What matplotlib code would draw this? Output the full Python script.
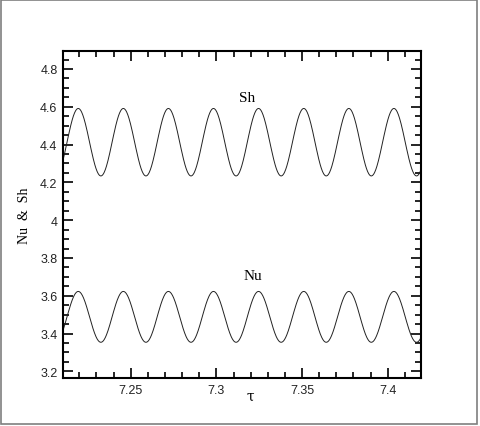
import numpy as np
import matplotlib
matplotlib.use("Agg")
import matplotlib.pyplot as plt
from matplotlib.patches import Rectangle
from matplotlib.ticker import MultipleLocator

# Extrema (alternating trough/peak)
tau_ext = [7.2063, 7.2194, 7.2326, 7.2457, 7.2589, 7.2720, 7.2852, 7.2983,
           7.3115, 7.3246, 7.3378, 7.3510, 7.3641, 7.3773, 7.3904, 7.4036,
           7.4168, 7.4299]
sh_ext = [4.234, 4.591, 4.234, 4.591, 4.234, 4.591, 4.234, 4.591,
          4.234, 4.591, 4.234, 4.591, 4.234, 4.591, 4.234, 4.591,
          4.234, 4.591]
nu_ext = [3.354, 3.623, 3.354, 3.623, 3.354, 3.623, 3.354, 3.623,
          3.354, 3.623, 3.354, 3.623, 3.354, 3.623, 3.354, 3.623,
          3.354, 3.623]

xticks = [7.25, 7.3, 7.35, 7.4]
xtick_labels = ["7.25", "7.3", "7.35", "7.4"]
yticks = [3.2, 3.4, 3.6, 3.8, 4.0, 4.2, 4.4, 4.6, 4.8]
ytick_labels = ["3.2", "3.4", "3.6", "3.8", "4", "4.2", "4.4", "4.6", "4.8"]


def smooth(tx, vy, n=60):
    # half-cosine joins between consecutive extrema
    xs, ys = [], []
    for i in range(len(tx) - 1):
        s = np.linspace(0, 1, n, endpoint=False)
        w = (1 - np.cos(np.pi * s)) / 2
        xs.append(tx[i] + (tx[i + 1] - tx[i]) * s)
        ys.append(vy[i] + (vy[i + 1] - vy[i]) * w)
    xs.append([tx[-1]])
    ys.append([vy[-1]])
    return np.concatenate(xs), np.concatenate(ys)


fig = plt.figure(figsize=(4.8, 4.27), dpi=100)
fig.patch.set_facecolor("white")
fig.patches.append(Rectangle((0.003, 0.005), 0.991, 0.993, transform=fig.transFigure,
                             fill=False, edgecolor="#7f7f7f", linewidth=1.2))

ax = fig.add_axes([63 / 480, 1 - 379 / 427, (421 - 63) / 480, (379 - 52) / 427])

x, y = smooth(tau_ext, sh_ext)
ax.plot(x, y, color="#222222", linewidth=0.7)
x, y = smooth(tau_ext, nu_ext)
ax.plot(x, y, color="#222222", linewidth=0.7)

ax.set_xlim(7.2105, 7.4194)
ax.set_ylim(3.165, 4.895)

ax.set_xticks(xticks)
ax.set_xticklabels(xtick_labels)
ax.set_yticks(yticks)
ax.set_yticklabels(ytick_labels)
ax.xaxis.set_minor_locator(MultipleLocator(0.01))
ax.yaxis.set_minor_locator(MultipleLocator(0.05))
ax.tick_params(which="both", direction="in", top=True, right=True,
               labelsize=9, colors="black", width=1.2)
ax.tick_params(which="major", length=7, pad=4)
ax.tick_params(which="minor", length=4)
for lab in ax.get_xticklabels() + ax.get_yticklabels():
    lab.set_family("Liberation Sans")
    lab.set_color("#222222")
for sp in ax.spines.values():
    sp.set_linewidth(1.5)

ax.text(7.3177, 4.651, "Sh", family="Liberation Serif", fontsize=11,
        ha="center", va="center")
ax.text(7.3212, 3.705, "Nu", family="Liberation Serif", fontsize=11,
        ha="center", va="center")

fig.text(25 / 480, 1 - 216 / 427, "Nu  &  Sh", family="Liberation Serif",
         fontsize=10, rotation=90, ha="center", va="center")
fig.text(250 / 480, 1 - 397 / 427, "τ", family="DejaVu Serif",
         fontsize=10, ha="center", va="center")

fig.savefig("out.png", dpi=100)
